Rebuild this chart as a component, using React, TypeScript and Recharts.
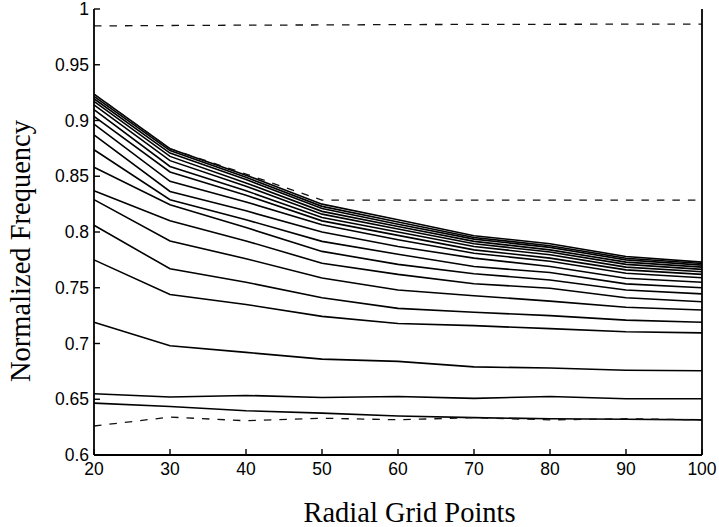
import React from "react";
import { LineChart, Line, XAxis, YAxis } from "recharts";

// Radial grid resolution (x) and the tick labels on both axes
const gridPoints = [20, 30, 40, 50, 60, 70, 80, 90, 100];
const xTicks = [20, 30, 40, 50, 60, 70, 80, 90, 100];
const yTicks = [0.6, 0.65, 0.7, 0.75, 0.8, 0.85, 0.9, 0.95, 1];
const yTickLabels = ["0.6", "0.65", "0.7", "0.75", "0.8", "0.85", "0.9", "0.95", "1"];

const X_TITLE = "Radial Grid Points";
const Y_TITLE = "Normalized Frequency";

// Converging eigenfrequencies (solid curves), highest first
const mode01 = [0.9237, 0.8747, 0.851, 0.825, 0.811, 0.7967, 0.7895, 0.778, 0.773];
const mode02 = [0.9216, 0.873, 0.849, 0.823, 0.809, 0.7951, 0.7877, 0.7765, 0.7718];
const mode03 = [0.9195, 0.8708, 0.847, 0.821, 0.807, 0.7936, 0.7862, 0.775, 0.7703];
const mode04 = [0.9171, 0.8678, 0.844, 0.8185, 0.805, 0.7916, 0.784, 0.773, 0.7685];
const mode05 = [0.9141, 0.864, 0.841, 0.816, 0.8027, 0.7895, 0.782, 0.771, 0.7665];
const mode06 = [0.9097, 0.8588, 0.837, 0.813, 0.8, 0.787, 0.7796, 0.7685, 0.7643];
const mode07 = [0.9037, 0.8538, 0.833, 0.81, 0.797, 0.784, 0.7766, 0.766, 0.762];
const mode08 = [0.8968, 0.8454, 0.827, 0.8065, 0.793, 0.781, 0.7737, 0.763, 0.759];
const mode09 = [0.8872, 0.8364, 0.819, 0.8, 0.787, 0.7766, 0.769, 0.7585, 0.755];
const mode10 = [0.8738, 0.829, 0.811, 0.7916, 0.78, 0.769, 0.7637, 0.7535, 0.75];
const mode11 = [0.858, 0.8245, 0.804, 0.7826, 0.771, 0.7626, 0.757, 0.748, 0.7445];
const mode12 = [0.837, 0.81, 0.792, 0.772, 0.762, 0.7536, 0.7495, 0.741, 0.7375];
const mode13 = [0.829, 0.792, 0.776, 0.7587, 0.748, 0.7428, 0.738, 0.7325, 0.73];
const mode14 = [0.806, 0.767, 0.755, 0.741, 0.7315, 0.728, 0.725, 0.721, 0.719];
const mode15 = [0.775, 0.744, 0.735, 0.7243, 0.718, 0.716, 0.7133, 0.7105, 0.7095];
const mode16 = [0.719, 0.698, 0.692, 0.686, 0.684, 0.679, 0.678, 0.676, 0.6755];
const mode17 = [0.655, 0.652, 0.6534, 0.6516, 0.6525, 0.6508, 0.6525, 0.6505, 0.6505];
const mode18 = [0.6465, 0.6435, 0.6397, 0.6376, 0.635, 0.6335, 0.6325, 0.632, 0.6315];

// Reference bounds (dashed curves)
const boundUpper = [0.9848, 0.9852, 0.9855, 0.9857, 0.986, 0.9862, 0.9863, 0.9864, 0.9865];
const boundMiddle = [0.9237, 0.8747, 0.852, 0.8285, 0.8285, 0.8285, 0.8285, 0.8285, 0.8285];
const boundLower = [0.626, 0.634, 0.6307, 0.633, 0.6316, 0.6335, 0.6315, 0.6325, 0.6315];

const solidSeries = [
  mode01, mode02, mode03, mode04, mode05, mode06, mode07, mode08, mode09,
  mode10, mode11, mode12, mode13, mode14, mode15, mode16, mode17, mode18,
];
const dashedSeries = [boundUpper, boundMiddle, boundLower];

const rows = gridPoints.map((x, i) => {
  const row: Record<string, number> = { x };
  solidSeries.forEach((s, k) => {
    row[`s${k}`] = s[i];
  });
  dashedSeries.forEach((s, k) => {
    row[`d${k}`] = s[i];
  });
  return row;
});

const SANS = "'Liberation Sans', Arial, Helvetica, sans-serif";
const SERIF = "'Liberation Serif', 'Times New Roman', serif";
const AXIS_STROKE = { stroke: "#000", strokeWidth: 1.8 };
const TICK_FONT = 17.5;
const TICK_LEN = 6;
const TICK_W = 1.4;
const X_GAP = 8; // label gap below the x axis
const Y_GAP = 5; // label gap left of the y axis

const fmtY = (v: number) => {
  const idx = yTicks.findIndex((t) => Math.abs(t - v) < 1e-9);
  return idx >= 0 ? yTickLabels[idx] : String(v);
};

// Inward-pointing tick marks with labels (box-style axes)
const BottomTick = (p: any) => {
  const axisY = p.y - X_GAP;
  return (
    <g>
      <line x1={p.x} x2={p.x} y1={axisY} y2={axisY - TICK_LEN} stroke="#000" strokeWidth={TICK_W} />
      <text x={p.x} y={p.y} dy="0.71em" textAnchor="middle" fontFamily={SANS} fontSize={TICK_FONT} fill="#000">
        {p.payload.value}
      </text>
    </g>
  );
};

const TopTick = (p: any) => {
  const axisY = p.y + 1;
  return (
    <line x1={p.x} x2={p.x} y1={axisY} y2={axisY + TICK_LEN} stroke="#000" strokeWidth={TICK_W} />
  );
};

const LeftTick = (p: any) => {
  const axisX = p.x + Y_GAP;
  return (
    <g>
      <line x1={axisX} x2={axisX + TICK_LEN} y1={p.y} y2={p.y} stroke="#000" strokeWidth={TICK_W} />
      <text x={p.x} y={p.y} dy="0.355em" textAnchor="end" fontFamily={SANS} fontSize={TICK_FONT} fill="#000">
        {fmtY(p.payload.value)}
      </text>
    </g>
  );
};

const RightTick = (p: any) => {
  const axisX = p.x - 1;
  return (
    <line x1={axisX} x2={axisX - TICK_LEN} y1={p.y} y2={p.y} stroke="#000" strokeWidth={TICK_W} />
  );
};

const XTitle = (props: any) => {
  const vb = props.viewBox || { x: 94, y: 455, width: 608, height: 72 };
  const cx = vb.x + vb.width / 2 + 11.5;
  const y = vb.y + vb.height - 5.3;
  return (
    <text x={cx} y={y} textAnchor="middle" fontFamily={SERIF} fontSize={28.5} fill="#000">
      {X_TITLE}
    </text>
  );
};

const YTitle = (props: any) => {
  const vb = props.viewBox || { x: 0, y: 9, width: 94, height: 446 };
  const x = vb.x + 30;
  const cy = vb.y + vb.height / 2 + 19;
  return (
    <text
      x={x}
      y={cy}
      transform={`rotate(-90, ${x}, ${cy})`}
      textAnchor="middle"
      fontFamily={SERIF}
      fontSize={28.5}
      fill="#000"
    >
      {Y_TITLE}
    </text>
  );
};

export default function App() {
  return (
    <div style={{ position: "absolute", left: 0, top: 0, background: "#fff" }}>
      <LineChart
        width={719}
        height={527}
        data={rows}
        margin={{ top: 9, right: 16, bottom: 0, left: 0 }}
      >
        <XAxis
          dataKey="x"
          type="number"
          domain={[20, 100]}
          ticks={xTicks}
          interval={0}
          height={72}
          axisLine={AXIS_STROKE}
          tickLine={false}
          tickSize={0}
          tickMargin={X_GAP}
          tick={<BottomTick />}
          label={XTitle}
        />
        <XAxis
          xAxisId="top"
          orientation="top"
          dataKey="x"
          type="number"
          domain={[20, 100]}
          ticks={xTicks}
          interval={0}
          height={0}
          axisLine={AXIS_STROKE}
          tickLine={false}
          tickSize={0}
          tickMargin={1}
          tick={<TopTick />}
        />
        <YAxis
          type="number"
          domain={[0.6, 1]}
          ticks={yTicks}
          interval={0}
          width={94}
          axisLine={AXIS_STROKE}
          tickLine={false}
          tickSize={0}
          tickMargin={Y_GAP}
          tick={<LeftTick />}
          label={YTitle}
        />
        <YAxis
          yAxisId="right"
          orientation="right"
          type="number"
          domain={[0.6, 1]}
          ticks={yTicks}
          interval={0}
          width={1}
          axisLine={AXIS_STROKE}
          tickLine={false}
          tickSize={0}
          tickMargin={1}
          tick={<RightTick />}
        />
        {solidSeries.map((_, k) => (
          <Line
            key={`s${k}`}
            dataKey={`s${k}`}
            type="linear"
            stroke="#000"
            strokeWidth={1.6}
            dot={false}
            activeDot={false}
            isAnimationActive={false}
          />
        ))}
        {dashedSeries.map((_, k) => (
          <Line
            key={`d${k}`}
            dataKey={`d${k}`}
            type="linear"
            stroke="#111"
            strokeWidth={1.3}
            strokeDasharray="7.5 8"
            dot={false}
            activeDot={false}
            isAnimationActive={false}
          />
        ))}
      </LineChart>
    </div>
  );
}
